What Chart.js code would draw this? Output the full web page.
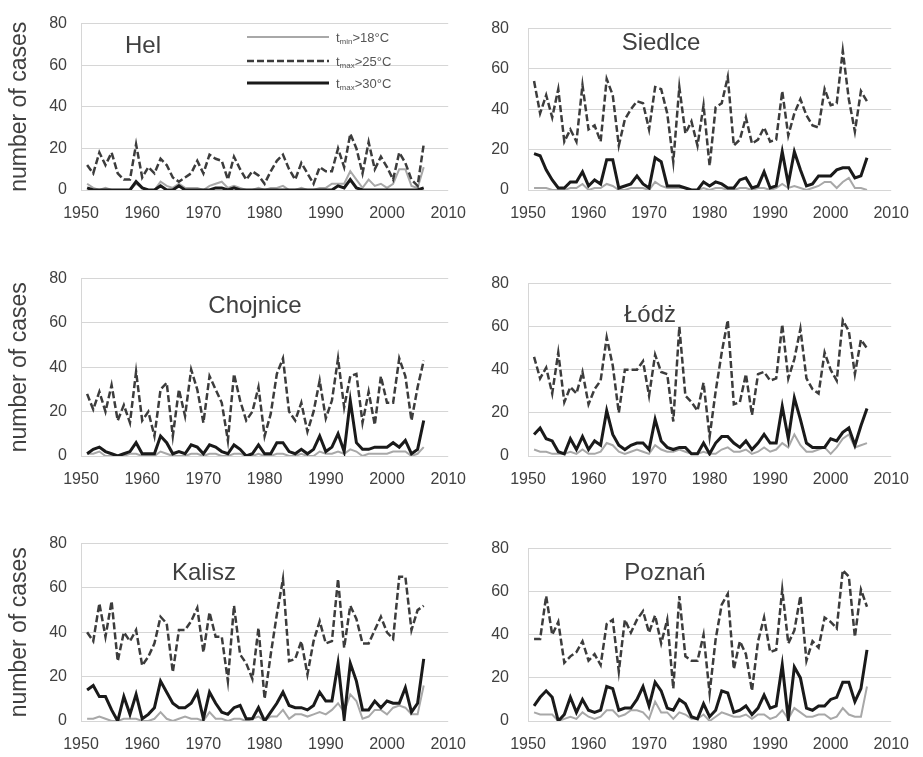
<!DOCTYPE html>
<html>
<head>
<meta charset="utf-8">
<script src="https://cdn.jsdelivr.net/npm/chart.js@4.4.0/dist/chart.umd.min.js"></script>
<style>
body { margin: 0; background: #fff; }
#wrap { position: relative; width: 923px; height: 757px; overflow: hidden; background: #fff; }
.panel { position: absolute; }
</style>
</head>
<body>
<div id="wrap">
  <canvas id="hel" class="panel" width="480" height="225" style="left:0;top:0"></canvas>
  <canvas id="siedlce" class="panel" width="458" height="225" style="left:465px;top:0"></canvas>
  <canvas id="chojnice" class="panel" width="480" height="236" style="left:0;top:255px"></canvas>
  <canvas id="lodz" class="panel" width="458" height="236" style="left:465px;top:255px"></canvas>
  <canvas id="kalisz" class="panel" width="480" height="236" style="left:0;top:520px"></canvas>
  <canvas id="poznan" class="panel" width="458" height="236" style="left:465px;top:520px"></canvas>
</div>
<script>
// lata
var years = [1951,1952,1953,1954,1955,1956,1957,1958,1959,1960,
             1961,1962,1963,1964,1965,1966,1967,1968,1969,1970,
             1971,1972,1973,1974,1975,1976,1977,1978,1979,1980,
             1981,1982,1983,1984,1985,1986,1987,1988,1989,1990,
             1991,1992,1993,1994,1995,1996,1997,1998,1999,2000,
             2001,2002,2003,2004,2005,2006];

var seriesNames = ["min>18°C", "max>25°C", "max>30°C"];
var yTicks = [0, 20, 40, 60, 80];
var xTicks = [1950, 1960, 1970, 1980, 1990, 2000, 2010];

// Hel
var helMin18 = [3,1,0,1,0,0,0,0,3,1, 0,0,4,2,1,3,1,1,1,0, 2,3,4,1,2,1,0,0,1,0, 1,1,2,0,0,1,0,0,1,1, 3,3,3,9,5,1,5,2,3,1, 3,10,10,2,1,11];
var helMax25 = [12,8,18,12,18,8,5,5,22,6, 11,8,15,12,6,4,6,8,14,8, 17,15,14,5,16,10,5,9,7,3, 9,14,17,10,5,13,8,3,11,9, 9,20,11,27,20,8,23,10,16,11, 5,18,13,5,2,22];
var helMax30 = [1,0,0,0,0,0,0,0,4,1, 0,0,2,0,0,2,0,0,0,0, 0,1,1,0,1,0,0,0,0,0, 0,0,0,0,0,0,0,0,0,0, 0,2,1,5,1,0,0,0,0,0, 0,0,0,0,0,1];

// Siedlce
var siedlceMin18 = [1,1,1,0,0,0,1,1,3,0, 1,1,3,2,0,0,1,1,1,0, 4,2,1,1,1,1,0,0,1,0, 1,1,0,0,1,1,0,1,1,0, 1,3,1,2,1,0,1,2,4,4, 1,4,6,1,1,0];
var siedlceMax25 = [54,38,47,36,50,24,30,24,52,30, 32,24,55,47,22,35,40,44,43,30, 51,50,38,14,51,28,34,22,42,12, 41,43,56,22,25,36,23,25,31,24, 25,49,27,38,45,37,32,31,50,42, 43,69,45,29,49,44];
var siedlceMax30 = [18,17,10,5,1,1,4,4,9,2, 5,3,15,15,1,2,3,7,3,1, 16,14,2,2,2,1,0,0,4,2, 4,3,1,1,5,6,1,2,9,1, 2,19,3,19,10,2,3,7,7,7, 10,11,11,6,7,16];

// Chojnice
var chojniceMin18 = [1,1,2,0,0,0,0,1,1,0, 0,0,2,1,0,0,0,1,1,0, 1,1,0,0,1,1,0,0,1,0, 0,1,1,0,0,1,0,0,2,1, 1,2,1,3,2,0,1,1,1,1, 2,2,2,0,1,4];
var chojniceMax25 = [28,21,29,20,32,16,23,15,38,16, 20,9,30,33,9,30,18,39,30,15, 36,30,24,7,37,25,16,20,31,9, 19,37,44,20,16,24,11,20,34,17, 25,44,22,36,37,15,29,14,36,24, 24,44,36,16,31,43];
var chojniceMax30 = [1,3,4,2,1,0,1,2,6,1, 1,1,9,6,1,2,1,5,4,1, 5,4,2,1,5,3,0,1,5,1, 1,6,6,2,1,3,1,3,9,2, 4,10,2,25,6,3,3,4,4,4, 6,4,7,1,3,16];

// Łódź
var lodzMin18 = [3,2,2,1,1,1,2,1,3,1, 1,2,6,5,2,1,2,3,2,1, 5,3,2,2,3,2,1,1,2,1, 1,3,4,2,2,3,1,2,4,2, 3,6,4,10,5,2,2,3,4,1, 4,8,10,4,5,6];
var lodzMax25 = [46,36,41,29,48,25,32,29,39,24, 31,35,55,42,20,40,40,40,44,28, 47,39,38,16,60,28,25,21,34,9, 30,48,63,24,25,38,19,38,39,35, 36,61,36,45,59,36,31,29,48,40, 35,63,58,38,54,50];
var lodzMax30 = [10,13,8,7,2,1,8,3,9,3, 7,5,21,10,5,3,5,6,6,3, 17,7,4,3,4,4,1,1,6,1, 6,9,9,6,4,7,3,6,10,6, 6,23,8,27,17,6,4,4,4,8, 7,11,13,5,14,22];

// Kalisz
var kaliszMin18 = [1,1,2,1,0,0,1,1,1,0, 0,1,4,1,0,1,2,1,1,0, 4,1,1,0,1,1,0,1,2,0, 2,2,5,1,3,3,2,3,4,3, 5,8,4,12,9,1,2,5,5,3, 6,7,6,3,3,16];
var kaliszMax25 = [40,36,53,38,54,27,40,36,41,25, 29,35,47,44,22,41,41,45,51,31, 49,38,38,18,52,30,26,19,42,10, 30,48,64,27,28,36,21,36,45,35, 36,64,33,52,46,35,35,41,47,40, 37,65,65,41,50,52];
var kaliszMax30 = [14,16,11,11,5,0,11,3,12,1, 3,6,18,13,8,6,6,8,13,1, 13,8,4,3,6,7,1,1,6,0, 4,8,13,7,6,6,5,7,13,9, 9,26,1,26,18,5,5,9,6,9, 8,8,15,4,8,28];

// Poznań
var poznanMin18 = [4,3,3,3,0,1,2,1,4,2, 1,2,5,5,2,3,5,5,4,1, 9,4,4,1,4,3,1,1,3,0, 2,4,3,2,2,3,1,3,3,1, 2,5,1,6,4,2,2,3,3,1, 2,6,3,2,2,16];
var poznanMax25 = [38,38,58,40,46,27,30,32,37,28, 31,26,45,47,23,47,41,47,51,41, 49,36,47,15,58,30,28,28,40,13, 38,54,59,24,37,31,14,37,48,32, 33,61,36,42,58,28,37,34,48,46, 43,70,67,39,61,53];
var poznanMax30 = [7,11,14,11,0,3,11,4,10,5, 4,5,16,15,5,6,6,10,16,7, 18,14,6,5,10,8,2,1,8,2, 5,14,13,4,5,7,3,6,12,6, 7,26,1,25,20,6,5,7,7,10, 11,18,18,9,15,33];

Chart.defaults.font.family = "'Liberation Sans', Arial, sans-serif";
Chart.defaults.color = "#404040";

var FONT = "'Liberation Sans', Arial, sans-serif";

// styl linii
var lineStyles = [
    { color: "#a8a8a8", width: 2, dash: [] },
    { color: "#3c3c3c", width: 2.5, dash: [7, 3] },
    { color: "#1a1a1a", width: 3, dash: [] }
];

function toPoints(values) {
    return values.map(function (v, i) { return { x: years[i], y: v }; });
}

// nazwa stacji w panelu
var panelText = {
    id: "panelText",
    afterDraw: function (chart, args, opts) {
        var ctx = chart.ctx;
        ctx.save();
        ctx.font = "24px " + FONT;
        ctx.fillStyle = "#404040";
        ctx.textAlign = "center";
        ctx.textBaseline = "alphabetic";
        ctx.fillText(opts.text, opts.x, opts.y);
        ctx.restore();
    }
};

// legenda tylko w panelu Hel
var legendBox = {
    id: "legendBox",
    afterDraw: function (chart) {
        var ctx = chart.ctx;
        var rows = [37, 61, 83];
        ctx.save();
        rows.forEach(function (y, i) {
            var st = lineStyles[i];
            ctx.beginPath();
            ctx.strokeStyle = st.color;
            ctx.lineWidth = st.width;
            ctx.setLineDash(st.dash);
            ctx.moveTo(247, y);
            ctx.lineTo(329, y);
            ctx.stroke();
            ctx.setLineDash([]);

            var name = seriesNames[i];
            var sub = name.slice(0, 3);
            var rest = name.slice(3);
            var x = 336;
            ctx.fillStyle = "#555";
            ctx.textBaseline = "alphabetic";
            ctx.textAlign = "left";
            ctx.font = "13px " + FONT;
            ctx.fillText("t", x, y + 5);
            x += ctx.measureText("t").width;
            ctx.font = "8px " + FONT;
            ctx.fillText(sub, x, y + 7);
            x += ctx.measureText(sub).width;
            ctx.font = "13px " + FONT;
            ctx.fillText(rest, x, y + 5);
        });
        ctx.restore();
    }
};

function makePanel(id, cfg) {
    var isLeft = cfg.left;
    var datasets = [
        { data: toPoints(cfg.max30), style: lineStyles[2] },
        { data: toPoints(cfg.max25), style: lineStyles[1] },
        { data: toPoints(cfg.min18), style: lineStyles[0] }
    ].map(function (d) {
        return {
            data: d.data,
            borderColor: d.style.color,
            borderWidth: d.style.width,
            borderDash: d.style.dash,
            pointRadius: 0,
            tension: 0,
            fill: false
        };
    });

    var plugins = [panelText];
    if (cfg.legend) plugins.push(legendBox);

    return new Chart(document.getElementById(id).getContext("2d"), {
        type: "line",
        data: { datasets: datasets },
        plugins: plugins,
        options: {
            responsive: false,
            animation: false,
            events: [],
            layout: { padding: { top: cfg.padTop, right: isLeft ? 29 : 31, left: 0, bottom: 0 } },
            plugins: {
                legend: { display: false },
                tooltip: { enabled: false },
                panelText: { text: cfg.name, x: cfg.tx, y: cfg.ty }
            },
            scales: {
                x: {
                    type: "linear",
                    min: 1950,
                    max: 2010,
                    afterBuildTicks: function (s) { s.ticks = xTicks.map(function (v) { return { value: v }; }); },
                    afterFit: function (s) { s.height = 35; },
                    ticks: {
                        padding: 14,
                        font: { size: 16 },
                        color: "#404040",
                        maxRotation: 0,
                        callback: function (v) { return String(v); }
                    },
                    grid: { display: false, drawTicks: false },
                    border: { display: false }
                },
                y: {
                    min: 0,
                    max: 80,
                    afterBuildTicks: function (s) { s.ticks = yTicks.map(function (v) { return { value: v }; }); },
                    afterFit: function (s) { s.width = isLeft ? 81 : 63; },
                    ticks: {
                        padding: isLeft ? 14 : 19,
                        font: { size: 16 },
                        color: "#404040"
                    },
                    grid: { color: "#d6d6d6", lineWidth: 1, drawTicks: false },
                    border: { display: true, color: "#d6d6d6" },
                    title: {
                        display: isLeft,
                        text: "number of cases",
                        font: { size: 23 },
                        color: "#404040",
                        padding: { top: 6, bottom: 0 }
                    }
                }
            }
        }
    });
}

makePanel("hel", { left: true, legend: true, padTop: 15, name: "Hel", tx: 143, ty: 53,
    min18: helMin18, max25: helMax25, max30: helMax30 });
makePanel("siedlce", { left: false, padTop: 15, name: "Siedlce", tx: 196, ty: 50,
    min18: siedlceMin18, max25: siedlceMax25, max30: siedlceMax30 });
makePanel("chojnice", { left: true, padTop: 23, name: "Chojnice", tx: 255, ty: 58,
    min18: chojniceMin18, max25: chojniceMax25, max30: chojniceMax30 });
makePanel("lodz", { left: false, padTop: 23, name: "Łódż", tx: 185, ty: 67,
    min18: lodzMin18, max25: lodzMax25, max30: lodzMax30 });
makePanel("kalisz", { left: true, padTop: 23, name: "Kalisz", tx: 204, ty: 60,
    min18: kaliszMin18, max25: kaliszMax25, max30: kaliszMax30 });
makePanel("poznan", { left: false, padTop: 23, name: "Poznań", tx: 200, ty: 60,
    min18: poznanMin18, max25: poznanMax25, max30: poznanMax30 });
</script>
</body>
</html>
